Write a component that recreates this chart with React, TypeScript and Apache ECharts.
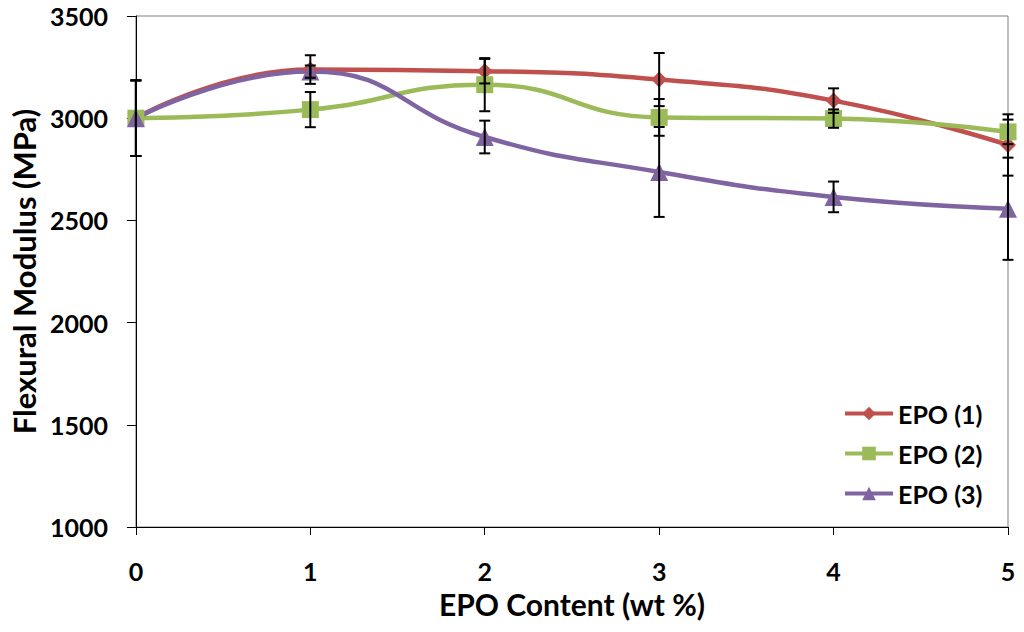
import React, { useEffect, useRef } from "react";
import * as echarts from "echarts";

const xValues = [0, 1, 2, 3, 4, 5];
const seriesNames = ["EPO (1)", "EPO (2)", "EPO (3)"];
const epo1 = [3000, 3238, 3230, 3189, 3086, 2869];
const epo2 = [3000, 3042, 3164, 3004, 2998, 2933];
const epo3 = [3000, 3228, 2908, 2737, 2615, 2557];
const err1 = [185, 70, 60, 130, 60, 150];
const err2 = [185, 86, 130, 90, 45, 60];
const err3 = [185, 30, 80, 220, 75, 250];
const yTicks = [1000, 1500, 2000, 2500, 3000, 3500];

const colors = ["#C0504D", "#9BBB59", "#8064A2"];
const symbols = ["diamond", "rect", "triangle"];
const symbolSizes = [16, 17, 18];

export default function App() {
  const ref = useRef<HTMLDivElement>(null);
  useEffect(() => {
    if (!ref.current) return;
    const chart = echarts.init(ref.current, null, { renderer: "svg" });
    const font = "Lato, 'Open Sans', sans-serif";
    const values = [epo1, epo2, epo3];
    const errs = [err1, err2, err3];

    const lineSeries = values.map((vals, i) => ({
      name: seriesNames[i],
      type: "line",
      smooth: 0.5,
      data: xValues.map((x, j) => [x, vals[j]]),
      symbol: symbols[i],
      symbolSize: symbolSizes[i],
      showSymbol: true,
      itemStyle: { color: colors[i] },
      lineStyle: { color: colors[i], width: 4.5 },
      z: 3,
    }));

    const errorSeries = values.map((vals, i) => ({
      type: "custom",
      name: "err" + i,
      data: xValues.map((x, j) => [x, vals[j] - errs[i][j], vals[j] + errs[i][j]]),
      renderItem: (params: any, api: any) => {
        const x = api.value(0);
        const lo = api.coord([x, api.value(1)]);
        const hi = api.coord([x, api.value(2)]);
        const cap = 5.5;
        const style = { stroke: "#000", lineWidth: 2 };
        return {
          type: "group",
          children: [
            { type: "line", shape: { x1: lo[0], y1: lo[1], x2: hi[0], y2: hi[1] }, style },
            { type: "line", shape: { x1: lo[0] - cap, y1: lo[1], x2: lo[0] + cap, y2: lo[1] }, style },
            { type: "line", shape: { x1: hi[0] - cap, y1: hi[1], x2: hi[0] + cap, y2: hi[1] }, style },
          ],
        };
      },
      encode: { x: 0, y: [1, 2] },
      z: 4,
      silent: true,
    }));

    chart.setOption({
      animation: false,
      backgroundColor: "#fff",
      grid: {
        left: 131,
        right: 16,
        top: 16,
        bottom: 105,
        show: true,
        borderColor: "#7f7f7f",
        borderWidth: 1,
      },
      legend: {
        data: seriesNames,
        orient: "vertical",
        left: 838,
        top: 396,
        itemWidth: 48,
        itemHeight: 17,
        itemGap: 15,
        lineStyle: { width: 4 },
        textStyle: { fontFamily: font, fontWeight: "bold", fontSize: 25, color: "#000" },
      },
      xAxis: {
        type: "value",
        min: 0,
        max: 5,
        interval: 1,
        name: "EPO Content (wt %)",
        nameLocation: "middle",
        nameGap: 62,
        nameTextStyle: { fontFamily: font, fontWeight: "bold", fontSize: 30, color: "#000" },
        axisLine: { show: true, lineStyle: { color: "#000", width: 1 } },
        axisTick: { show: true, inside: false, length: 8, lineStyle: { color: "#000" } },
        axisLabel: { fontFamily: font, fontWeight: "bold", fontSize: 25, color: "#000", margin: 31 },
        splitLine: { show: false },
      },
      yAxis: {
        type: "value",
        min: yTicks[0],
        max: yTicks[yTicks.length - 1],
        interval: 500,
        name: "Flexural Modulus (MPa)",
        nameLocation: "middle",
        nameGap: 96,
        nameTextStyle: { fontFamily: font, fontWeight: "bold", fontSize: 31, color: "#000" },
        axisLine: { show: true, lineStyle: { color: "#000", width: 1 } },
        axisTick: { show: true, inside: false, length: 9, lineStyle: { color: "#000" } },
        axisLabel: {
          fontFamily: font,
          fontWeight: "bold",
          fontSize: 25,
          color: "#000",
          margin: 28,
          formatter: (v: number) => String(v),
        },
        splitLine: { show: false },
      },
      series: [...lineSeries, ...errorSeries],
    });
    return () => chart.dispose();
  }, []);
  return (
    <div
      ref={ref}
      style={{ position: "absolute", left: 0, top: 0, width: 1024, height: 632 }}
    />
  );
}
